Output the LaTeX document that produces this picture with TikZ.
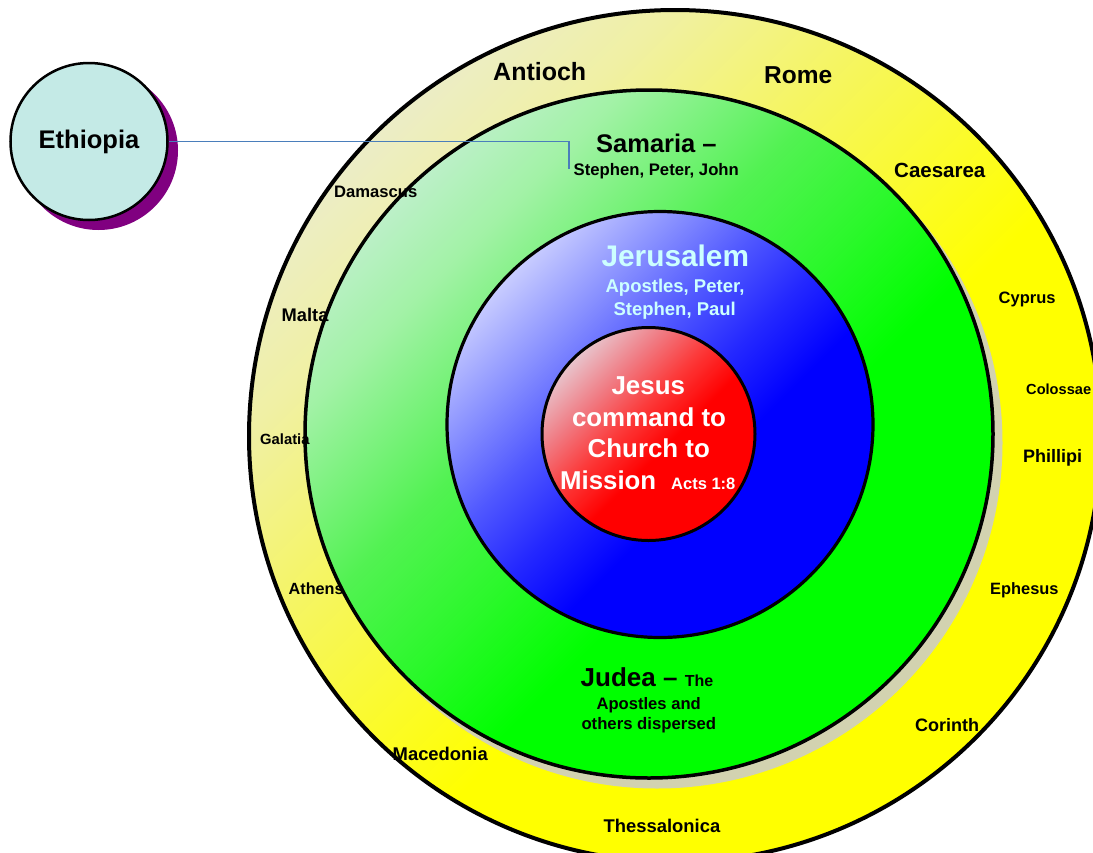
\documentclass[tikz,border=0pt]{standalone}
\usepackage{fontspec}
\setmainfont{Liberation Sans}
\newcommand\fsz[1]{\fontsize{#1}{#1}\selectfont}
\definecolor{ethfill}{HTML}{C4EAE6}
\definecolor{ethshadow}{HTML}{800080}
\definecolor{conncol}{HTML}{4A7EBB}
\definecolor{shadowcol}{HTML}{D2D2B0}
\definecolor{jerucol}{HTML}{CCFFFF}
\definecolor{ya}{HTML}{ECEDC6}\definecolor{yb}{HTML}{F0F0A4}\definecolor{yc}{HTML}{F5F564}\definecolor{yd}{HTML}{FBFB28}\definecolor{ye}{HTML}{FFFF00}
\definecolor{ga}{HTML}{BCF0C8}\definecolor{gb}{HTML}{A2F2A6}\definecolor{gc}{HTML}{52F252}\definecolor{gd}{HTML}{2CF82C}\definecolor{ge}{HTML}{00FF00}
\definecolor{ba}{HTML}{C8CCFF}\definecolor{bb}{HTML}{8890FF}\definecolor{bc}{HTML}{5058FF}\definecolor{bd}{HTML}{2428FF}\definecolor{be}{HTML}{0000FF}
\definecolor{ra}{HTML}{E8C4CC}\definecolor{rb}{HTML}{F07C84}\definecolor{rc}{HTML}{FC3838}\definecolor{rd}{HTML}{FF0000}
\pgfdeclarehorizontalshading{yelsh}{100bp}{color(0bp)=(ya); color(25bp)=(ya); color(32bp)=(yb); color(41bp)=(yc); color(50bp)=(yd); color(56bp)=(ye); color(100bp)=(ye)}
\pgfdeclarehorizontalshading{grnsh}{100bp}{color(0bp)=(ga); color(25bp)=(ga); color(31bp)=(gb); color(42bp)=(gc); color(50bp)=(gd); color(58bp)=(ge); color(100bp)=(ge)}
\pgfdeclarehorizontalshading{blush}{100bp}{color(0bp)=(ba); color(25bp)=(ba); color(34bp)=(bb); color(42bp)=(bc); color(50bp)=(bd); color(58bp)=(be); color(100bp)=(be)}
\pgfdeclarehorizontalshading{redsh}{100bp}{color(0bp)=(ra); color(25bp)=(ra); color(35bp)=(rb); color(45bp)=(rc); color(55bp)=(rd); color(100bp)=(rd)}
\tikzset{
  ring/.style={circle, draw=black, inner sep=0pt, outer sep=0pt, shade, shading angle=-45},
  lab/.style={inner sep=0pt, anchor=base west, font=\bfseries},
  labc/.style={inner sep=0pt, anchor=base, font=\bfseries},
  conn/.style={draw=conncol, line width=1.8pt}
}
\begin{document}
\begin{tikzpicture}[x=1pt,y=-1pt]
\useasboundingbox (0,0) rectangle (1093,852);
\clip (0,0) rectangle (1093,852);
% rings
\node[ring, shading=yelsh, line width=4pt, minimum size=852pt] (outer) at (675,436) {};
\fill[shadowcol] (657,443) circle[radius=345.5];
\node[ring, shading=grnsh, line width=3.5pt, minimum size=688pt] (green) at (649,434) {};
\node[ring, shading=blush, line width=3.2pt, minimum size=426pt] (blue) at (660,424.5) {};
\node[ring, shading=redsh, line width=3pt, minimum size=213pt] (red) at (648.5,434) {};
% Ethiopia
\fill[ethshadow] (98.5,150.5) circle[radius=79.5];
\node[circle, draw=black, line width=2.5pt, fill=ethfill, minimum size=157pt, inner sep=0pt, font=\bfseries\fsz{25.5}] (eth) at (89,141.5) {Ethiopia};
% outer ring labels
\node[lab] (antioch) at (493,80.7) {\fsz{25}Antioch};
\node[lab] (rome) at (764,83.3) {\fsz{24.5}Rome};
\node[lab] (damascus) at (334,197.3) {\fsz{16.6}Damascus};
\node[lab] (caesarea) at (894,177.3) {\fsz{20.5}Caesarea};
\node[lab] (cyprus) at (998.5,303.3) {\fsz{16.5}Cyprus};
\node[lab] (malta) at (281.5,321.7) {\fsz{18.3}Malta};
\node[lab] (colossae) at (1026,394) {\fsz{14.6}Colossae};
\node[lab] (galatia) at (260,444.3) {\fsz{14.8}Galatia};
\node[lab] (phillipi) at (1023,462.7) {\fsz{18}Phillipi};
\node[lab] (athens) at (288.5,594) {\fsz{16.2}Athens};
\node[lab] (ephesus) at (990,594) {\fsz{16.4}Ephesus};
\node[lab] (corinth) at (915,731) {\fsz{18}Corinth};
\node[lab] (macedonia) at (392.5,760.3) {\fsz{18.4}Macedonia};
\node[lab] (thess) at (603.5,832.7) {\fsz{18.4}Thessalonica};
% Samaria
\node[lab] (samaria) at (596,152.3) {\fsz{25.5}Samaria –};
\node[lab] (samnames) at (573.5,175) {\fsz{16.7}Stephen, Peter, John};
% Judea
\node[lab] (judea) at (580.5,686) {\fsz{26}Judea – \fsz{16}The};
\node[labc] (judea2) at (648.7,709.3) {\fsz{16.6}Apostles and};
\node[labc] (judea3) at (648.8,729.3) {\fsz{16.7}others dispersed};
% Jerusalem
\node[labc, text=jerucol] (jeru) at (675.3,266.7) {\fsz{29.8}Jerusalem};
\node[labc, text=jerucol] (jeru2) at (675,292.7) {\fsz{18.5}Apostles, Peter,};
\node[labc, text=jerucol] (jeru3) at (674.7,315) {\fsz{18.5}Stephen, Paul};
% Centre
\node[labc, text=white] (c1) at (648.3,394) {\fsz{25.9}Jesus};
\node[labc, text=white] (c2) at (649,426.7) {\fsz{25.9}command to};
\node[labc, text=white] (c3) at (648.8,457.3) {\fsz{25.9}Church to};
\node[lab, text=white] (c4) at (560,489.3) {\fsz{25.8}Mission\hspace{15pt}\fsz{16.5}Acts 1:8};
% connector
\coordinate (samend) at (569,169);
\draw[conn] (eth.east) -| (samend);
\end{tikzpicture}
\end{document}
